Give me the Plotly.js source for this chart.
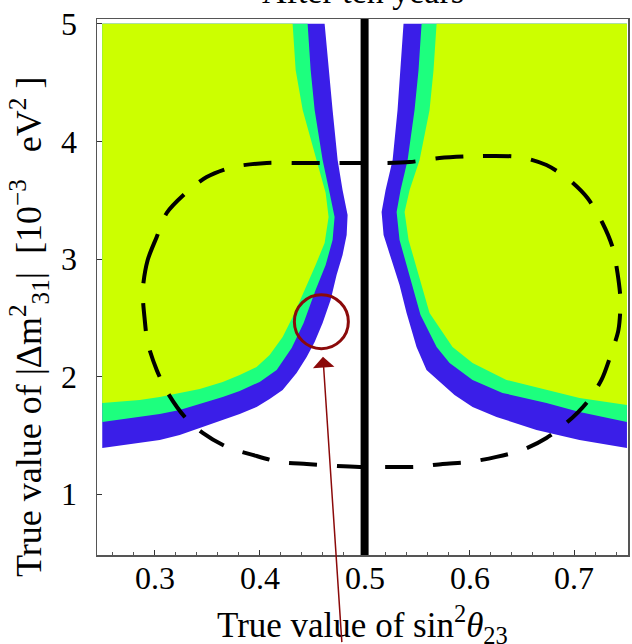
<!DOCTYPE html>
<html>
<head>
<meta charset="utf-8">
<script src="https://cdn.plot.ly/plotly-3.0.1.min.js"></script>
<style>html,body{margin:0;padding:0;background:#fff;}#chart{width:632px;height:644px;}</style>
</head>
<body>
<div id="chart"></div>
<script>
// Scan extent of the true-value grid
const xMin = 0.25, xMax = 0.75, yMax = 5.0;
const maximalMixing = 0.5;

// Left region boundaries (top -> left edge)
const leftBlueX = [0.4619,0.4657,0.4695,0.4743,0.4790,0.4838,0.4829,0.4790,0.4733,0.4676,0.4600,0.4524,0.4448,0.4352,0.4219,0.4095,0.3971,0.3810,0.3648,0.3429,0.3238,0.3048,0.2857,0.2667,0.25];
const leftBlueY = [5.0,4.606,4.266,3.841,3.586,3.374,3.204,3.034,2.864,2.652,2.456,2.295,2.167,2.031,1.887,1.810,1.743,1.683,1.632,1.564,1.505,1.462,1.437,1.411,1.394];
const leftGreenX = [0.4457,0.4486,0.4524,0.4600,0.4667,0.4714,0.4695,0.4629,0.4533,0.4419,0.4305,0.4162,0.4000,0.3810,0.3648,0.3429,0.3238,0.3048,0.2857,0.2667,0.25];
const leftGreenY = [5.0,4.606,4.266,3.841,3.561,3.357,3.162,2.949,2.737,2.456,2.243,2.057,1.955,1.879,1.828,1.768,1.717,1.683,1.658,1.632,1.615];
const leftYellowX = [0.4314,0.4343,0.4410,0.4543,0.4629,0.4657,0.4619,0.4533,0.4438,0.4324,0.4219,0.4095,0.3971,0.3810,0.3648,0.3429,0.3238,0.3048,0.2857,0.2667,0.25];
const leftYellowY = [5.0,4.606,4.266,3.841,3.561,3.357,3.136,2.949,2.754,2.524,2.337,2.184,2.082,2.014,1.955,1.895,1.862,1.828,1.802,1.785,1.776];

// Right region boundaries (top -> right edge)
const rightBlueX = [0.5371,0.5343,0.5314,0.5267,0.5200,0.5162,0.5181,0.5257,0.5333,0.5400,0.5495,0.5590,0.5714,0.5857,0.6029,0.6257,0.6638,0.7048,0.75];
const rightBlueY = [5.0,4.606,4.266,3.841,3.586,3.399,3.204,2.991,2.779,2.541,2.252,2.057,1.955,1.845,1.743,1.658,1.547,1.462,1.394];
const rightGreenX = [0.5543,0.5514,0.5476,0.5410,0.5343,0.5305,0.5333,0.5400,0.5467,0.5533,0.5686,0.5810,0.6029,0.6314,0.6733,0.7048,0.75];
const rightGreenY = [5.0,4.606,4.266,3.841,3.586,3.399,3.162,2.949,2.737,2.524,2.252,2.116,1.972,1.862,1.776,1.700,1.615];
const rightYellowX = [0.5686,0.5657,0.5619,0.5524,0.5429,0.5381,0.5419,0.5486,0.5552,0.5619,0.5838,0.6029,0.6352,0.6733,0.7048,0.75];
const rightYellowY = [5.0,4.606,4.266,3.841,3.586,3.399,3.162,2.949,2.737,2.541,2.252,2.116,1.972,1.887,1.819,1.760];

// Dashed contour
const dashX = [0.2886,0.2933,0.3019,0.3114,0.3305,0.3495,0.3743,0.4067,0.4381,0.4667,0.4924,0.5171,0.5429,0.5714,0.6095,0.6476,0.6733,0.6952,0.7124,0.7267,0.7362,0.7410,0.7438,0.7419,0.7352,0.7257,0.7114,0.6924,0.6733,0.6505,0.6257,0.6000,0.5743,0.5495,0.5210,0.4952,0.4733,0.4448,0.4190,0.3933,0.3686,0.3457,0.3286,0.3124,0.3019,0.2933,0.2905,0.2886];
const dashY = [2.737,2.991,3.187,3.391,3.569,3.697,3.782,3.816,3.816,3.816,3.816,3.816,3.824,3.858,3.875,3.867,3.799,3.671,3.518,3.306,3.102,2.881,2.652,2.397,2.201,1.972,1.777,1.607,1.479,1.377,1.318,1.275,1.258,1.233,1.233,1.233,1.241,1.258,1.275,1.335,1.403,1.522,1.658,1.862,2.057,2.286,2.482,2.737];

// Highlight marker
const circleX = 0.4588, circleY = 2.467;
const arrowTipX = 0.4603, arrowTipY = 2.17;

const xTicks = [0.3,0.4,0.5,0.6,0.7];
const xTickText = ['0.3','0.4','0.5','0.6','0.7'];
const yTicks = [1,2,3,4,5];
const yTickText = ['1','2','3','4','5'];

const titleText = 'After ten years';
const xTitleText = 'True value of sin<sup>2</sup><i>θ</i><sub>23</sub>';
const yTitleText = 'True value of&nbsp;|Δm<sup>2</sup><sub>31</sub>|&nbsp;&nbsp;[10<sup>−3</sup>&nbsp;&nbsp;&nbsp;eV<sup>2</sup>&nbsp;]';

const colBlue = '#3a1ee8', colGreen = '#1dff7e', colYellow = '#ccff00';

function region(bx, by, cornerX, color) {
  return {
    x: bx.concat([cornerX]), y: by.concat([yMax]),
    type: 'scatter', mode: 'lines', fill: 'toself', fillcolor: color,
    line: {width: 0, color: color}, hoverinfo: 'skip', showlegend: false
  };
}

const traces = [
  region(leftBlueX, leftBlueY, xMin, colBlue),
  region(leftGreenX, leftGreenY, xMin, colGreen),
  region(leftYellowX, leftYellowY, xMin, colYellow),
  region(rightBlueX, rightBlueY, xMax, colBlue),
  region(rightGreenX, rightGreenY, xMax, colGreen),
  region(rightYellowX, rightYellowY, xMax, colYellow),
  {
    x: dashX, y: dashY, type: 'scatter', mode: 'lines',
    line: {color: '#000', width: 4, dash: '28px,20px', shape: 'spline', smoothing: 0.8},
    showlegend: false, hoverinfo: 'skip'
  }
];

const font = 'Liberation Serif, Times New Roman, serif';

const annotations = [
  {xref: 'paper', yref: 'paper', x: 0.5, y: 1, yanchor: 'bottom', yshift: 7, showarrow: false,
   text: titleText, font: {family: font, size: 34, color: '#000'}},
  {xref: 'paper', yref: 'paper', x: 0.5, y: 0, yanchor: 'middle', yshift: -69, showarrow: false,
   text: xTitleText, font: {family: font, size: 35, color: '#000'}},
  {xref: 'paper', yref: 'paper', x: 0, y: 0.4254, xanchor: 'center', yanchor: 'middle', xshift: -68,
   textangle: -90, showarrow: false, text: yTitleText, font: {family: font, size: 36, color: '#000'}},
  {xref: 'x', yref: 'y', x: arrowTipX, y: arrowTipY, ax: 19, ay: 287, text: '',
   showarrow: true, arrowhead: 1, arrowsize: 2.4, arrowwidth: 1.5, arrowcolor: '#8b0a0a', standoff: 0}
];
xTicks.forEach((v, i) => {
  annotations.push({xref: 'x', yref: 'paper', x: v, y: 0, yanchor: 'middle', yshift: -23,
    showarrow: false, text: xTickText[i], font: {family: font, size: 32, color: '#000'}});
});

const layout = {
  width: 632, height: 644,
  margin: {l: 97, r: 4, t: 19, b: 89},
  paper_bgcolor: '#fff', plot_bgcolor: '#fff',
  showlegend: false,
  font: {family: font, color: '#000', size: 32},
  xaxis: {
    range: [0.245, 0.751], tickvals: xTicks, showticklabels: false,
    ticks: 'inside', ticklen: 5, tickwidth: 1, tickcolor: '#333',
    minor: {dtick: 0.02, tick0: 0.3, ticks: 'inside', ticklen: 3, tickcolor: '#555'},
    showline: true, linecolor: '#555', linewidth: 1.5, mirror: true,
    showgrid: false, zeroline: false
  },
  yaxis: {
    range: [0.484, 5.04], tickvals: yTicks, ticktext: yTickText,
    ticks: 'inside', ticklen: 5, tickwidth: 1, tickcolor: '#333',
    showline: true, linecolor: '#555', linewidth: 1.5, mirror: true,
    showgrid: false, zeroline: false,
    tickfont: {family: font, size: 32, color: '#000'},
    ticklabelstandoff: 12
  },
  shapes: [
    {type: 'line', xref: 'x', yref: 'paper', x0: maximalMixing, x1: maximalMixing, y0: 0, y1: 1,
     line: {color: '#000', width: 8}, layer: 'above'},
    {type: 'circle', xref: 'x', yref: 'y', xsizemode: 'pixel', ysizemode: 'pixel',
     xanchor: circleX, yanchor: circleY, x0: -27, x1: 27, y0: -27, y1: 27,
     line: {color: '#8b0a0a', width: 3}, layer: 'above'}
  ],
  annotations: annotations
};

Plotly.newPlot('chart', traces, layout, {staticPlot: true, displayModeBar: false});
</script>
</body>
</html>
